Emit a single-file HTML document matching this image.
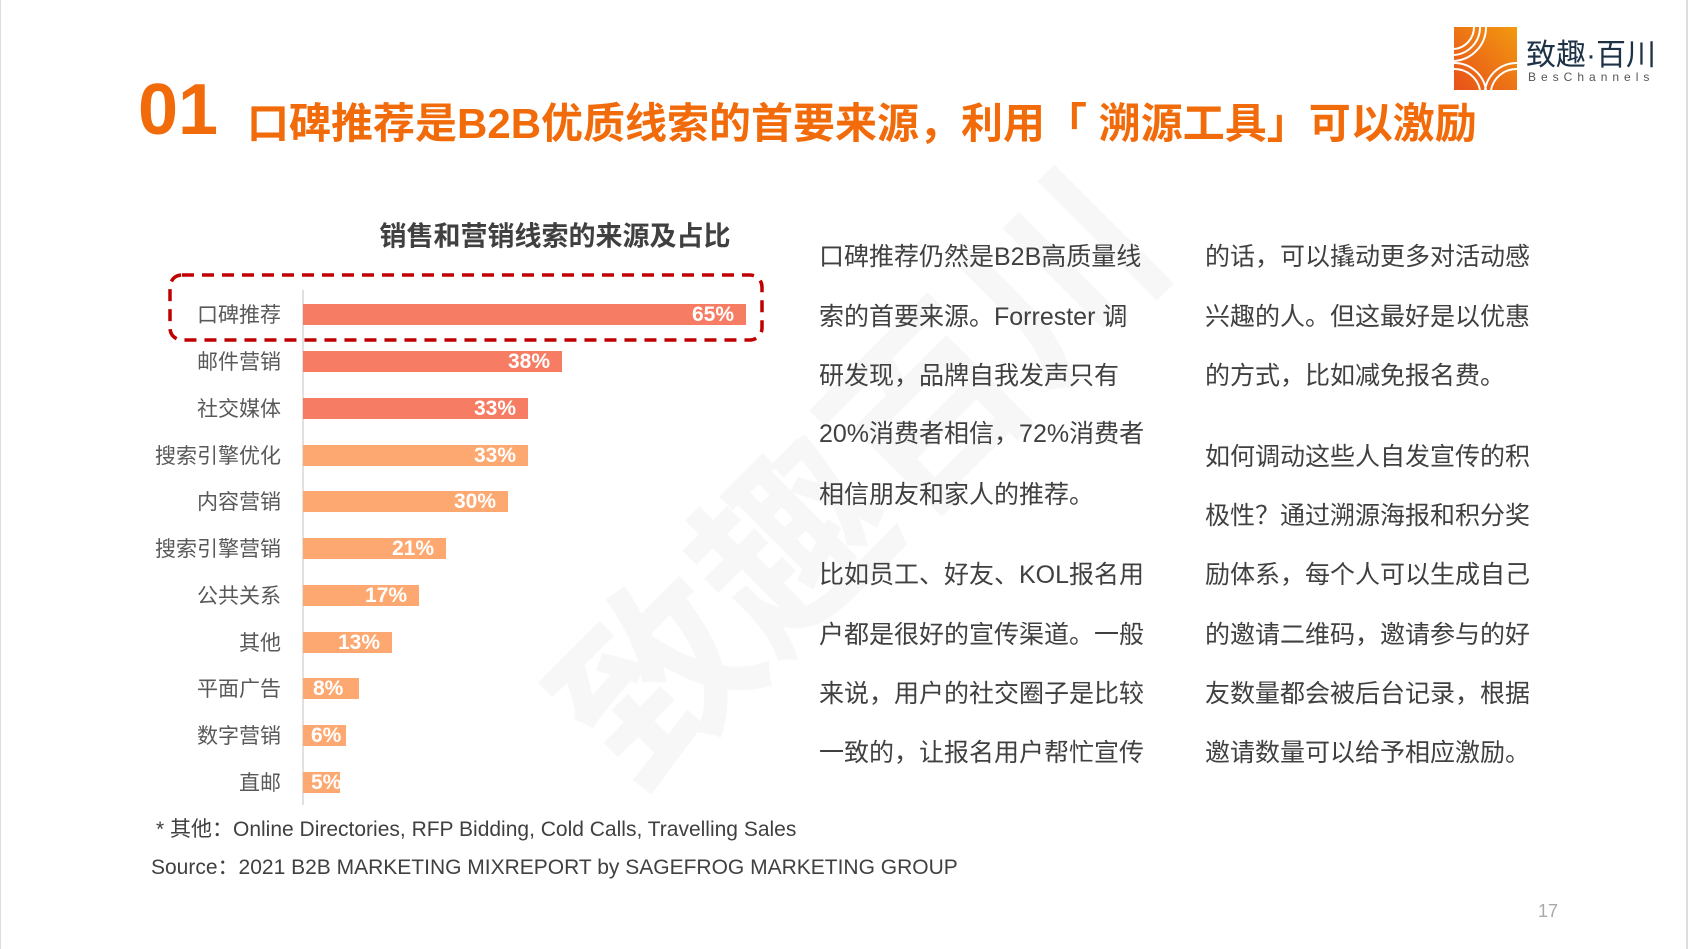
<!DOCTYPE html>
<html><head><meta charset="utf-8"><style>
body{margin:0;width:1690px;height:949px;background:#fff;position:relative;overflow:hidden;font-family:"Liberation Sans","Noto Sans CJK SC",sans-serif}
.a{position:absolute;white-space:nowrap}
.t{font-size:25px;color:#404040;transform:translateY(-50%)}
.lab{font-size:21px;color:#595959;right:1409px;transform:translateY(-50%)}
.bar{position:absolute;left:303px;height:21px}
.bar span{position:absolute;right:12px;top:50%;transform:translateY(-50%);color:#fff;font-weight:bold;font-size:21px}
</style></head><body>
<div class="a" style="left:0;top:0;width:1px;height:949px;background:#ddd"></div>
<div class="a" style="left:1686px;top:0;width:2px;height:949px;background:#ddd"></div>
<!-- watermark -->
<div class="a" style="left:470px;top:330px;font-size:190px;color:#f7f7f7;transform:rotate(-45deg);font-weight:bold">致趣百川</div>
<!-- logo -->
<svg class="a" style="left:1454px;top:27px" width="63" height="63" viewBox="0 0 63 63">
<defs><linearGradient id="g" x1="0" y1="1" x2="1" y2="0"><stop offset="0" stop-color="#e8501a"/><stop offset="1" stop-color="#f29a10"/></linearGradient></defs>
<rect width="63" height="63" fill="url(#g)"/>
<g fill="none" stroke="#fff" stroke-width="2">
<path d="M20 0 A22 22 0 0 1 0 22"/><path d="M26 0 A28 28 0 0 1 0 28"/><path d="M32 0 A34 34 0 0 1 0 34"/>
<path d="M0 42 A26 26 0 0 1 26 63"/><path d="M0 36 A32 32 0 0 1 32 63"/>
<path d="M63 42 A26 26 0 0 0 37 63"/><path d="M63 36 A32 32 0 0 0 31 63"/></g></svg>
<div class="a" style="left:1526px;top:30px;font-size:30px;color:#1e3246">致趣·百川</div>
<div class="a" style="left:1528px;top:70px;font-size:12px;color:#555;letter-spacing:5px">BesChannels</div>
<!-- title -->
<div class="a" style="left:138px;top:70px;font-size:72px;font-weight:bold;color:#f26b0a;line-height:80px">01</div>
<div class="a" style="left:247px;top:98px;font-size:42px;font-weight:bold;color:#f26b0a;line-height:52px">口碑推荐是B2B优质线索的首要来源，利用「 溯源工具」可以激励</div>
<!-- chart -->
<div class="a" style="left:555px;top:234px;transform:translate(-50%,-50%);font-size:27px;font-weight:bold;color:#404040">销售和营销线索的来源及占比</div>
<div class="a" style="left:302px;top:290px;width:2px;height:515px;background:#e0e0e0"></div>
<svg class="a" style="left:168px;top:273px" width="598" height="70"><rect x="2" y="2" width="592" height="65" rx="12" fill="none" stroke="#c00000" stroke-width="3.5" stroke-dasharray="12,8"/></svg>
<div class="a lab" style="top:314px">口碑推荐</div><div class="bar" style="top:304px;width:443px;background:#f67d63"><span>65%</span></div>
<div class="a lab" style="top:361px">邮件营销</div><div class="bar" style="top:351px;width:259px;background:#f67d63"><span>38%</span></div>
<div class="a lab" style="top:408px">社交媒体</div><div class="bar" style="top:398px;width:225px;background:#f67d63"><span>33%</span></div>
<div class="a lab" style="top:455px">搜索引擎优化</div><div class="bar" style="top:445px;width:225px;background:#fda870"><span>33%</span></div>
<div class="a lab" style="top:501px">内容营销</div><div class="bar" style="top:491px;width:205px;background:#fda870"><span>30%</span></div>
<div class="a lab" style="top:548px">搜索引擎营销</div><div class="bar" style="top:538px;width:143px;background:#fda870"><span>21%</span></div>
<div class="a lab" style="top:595px">公共关系</div><div class="bar" style="top:585px;width:116px;background:#fda870"><span>17%</span></div>
<div class="a lab" style="top:642px">其他</div><div class="bar" style="top:632px;width:89px;background:#fda870"><span>13%</span></div>
<div class="a lab" style="top:688px">平面广告</div><div class="bar" style="top:678px;width:56px;background:#fda870"><span style="right:auto;left:10px">8%</span></div>
<div class="a lab" style="top:735px">数字营销</div><div class="bar" style="top:725px;width:43px;background:#fda870"><span style="right:auto;left:8px">6%</span></div>
<div class="a lab" style="top:782px">直邮</div><div class="bar" style="top:772px;width:37px;background:#fda870"><span style="right:auto;left:8px">5%</span></div>
<div class="a" style="left:156px;top:813px;font-size:21px;color:#404040">* 其他：Online Directories, RFP Bidding, Cold Calls, Travelling Sales</div>
<div class="a" style="left:151px;top:851px;font-size:21px;color:#404040">Source：2021 B2B MARKETING MIXREPORT by SAGEFROG MARKETING GROUP</div>
<div class="a" style="left:1538px;top:901px;font-size:18px;color:#aaa">17</div>
<!-- text col1 -->
<div class="a t" style="left:819px;top:255px">口碑推荐仍然是B2B高质量线</div>
<div class="a t" style="left:819px;top:315px">索的首要来源。Forrester 调</div>
<div class="a t" style="left:819px;top:374px">研发现，品牌自我发声只有</div>
<div class="a t" style="left:819px;top:432px">20%消费者相信，72%消费者</div>
<div class="a t" style="left:819px;top:493px">相信朋友和家人的推荐。</div>
<div class="a t" style="left:819px;top:573px">比如员工、好友、KOL报名用</div>
<div class="a t" style="left:819px;top:633px">户都是很好的宣传渠道。一般</div>
<div class="a t" style="left:819px;top:692px">来说，用户的社交圈子是比较</div>
<div class="a t" style="left:819px;top:751px">一致的，让报名用户帮忙宣传</div>
<!-- text col2 -->
<div class="a t" style="left:1205px;top:255px">的话，可以撬动更多对活动感</div>
<div class="a t" style="left:1205px;top:315px">兴趣的人。但这最好是以优惠</div>
<div class="a t" style="left:1205px;top:374px">的方式，比如减免报名费。</div>
<div class="a t" style="left:1205px;top:455px">如何调动这些人自发宣传的积</div>
<div class="a t" style="left:1205px;top:514px">极性？通过溯源海报和积分奖</div>
<div class="a t" style="left:1205px;top:573px">励体系，每个人可以生成自己</div>
<div class="a t" style="left:1205px;top:633px">的邀请二维码，邀请参与的好</div>
<div class="a t" style="left:1205px;top:692px">友数量都会被后台记录，根据</div>
<div class="a t" style="left:1205px;top:751px">邀请数量可以给予相应激励。</div>
</body></html>
